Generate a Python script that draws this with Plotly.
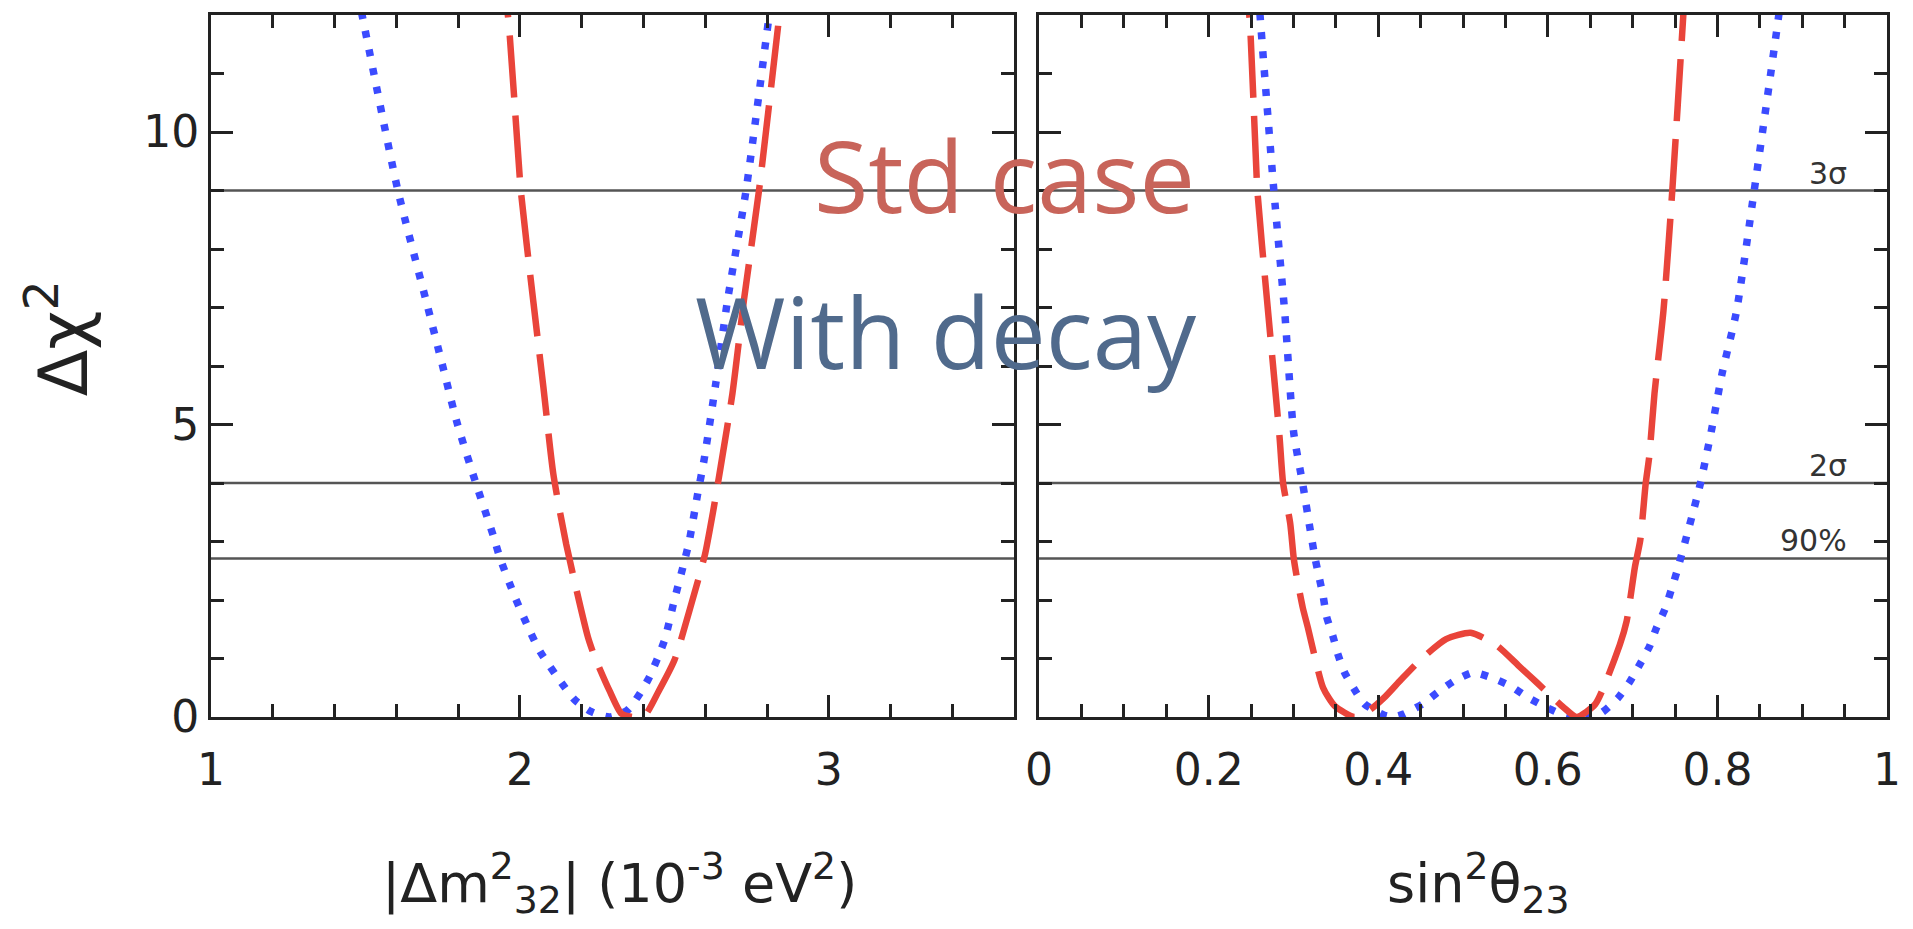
import plotly.graph_objects as go

# ---------------- data ----------------
# left panel: |dm^2_32| (1e-3 eV^2)
dm_decay_x = [1.45, 1.489, 1.605, 1.700, 1.748, 1.797, 1.856, 1.915, 1.936, 1.984, 2.033, 2.065,
              2.135, 2.178, 2.231, 2.290, 2.349, 2.414, 2.468, 2.500, 2.532, 2.548, 2.575,
              2.596, 2.634, 2.672, 2.732, 2.807, 2.832]
dm_decay_y = [13.0, 12.0, 9.0, 7.04, 6.04, 5.02, 4.02, 3.08, 2.71, 2.05, 1.46, 1.12,
              0.58, 0.29, 0.09, 0.0, 0.12, 0.63, 1.31, 2.0, 2.65, 3.0, 3.8,
              4.39, 5.7, 7.12, 9.0, 12.0, 13.0]

dm_std_x = [1.930, 1.961, 2.003, 2.043, 2.076, 2.108, 2.150, 2.220, 2.242, 2.290, 2.328, 2.365,
            2.403, 2.450, 2.500, 2.521, 2.580, 2.600, 2.625, 2.650, 2.688, 2.725, 2.774, 2.840, 2.862]
dm_std_y = [13.0, 12.0, 9.0, 7.12, 5.64, 4.16, 2.95, 1.37, 1.03, 0.45, 0.06, 0.0,
            0.02, 0.45, 0.97, 1.31, 2.4, 2.8, 3.5, 4.28, 5.53, 7.12, 9.0, 12.0, 13.0]

# right panel: sin^2 theta_23
th_decay_x = [0.256, 0.2606, 0.2769, 0.2899, 0.3004, 0.3109, 0.3192, 0.3256, 0.3297, 0.335, 0.339,
              0.3466, 0.3525, 0.3603, 0.372, 0.384, 0.407, 0.418, 0.430, 0.452, 0.470, 0.489,
              0.512, 0.534, 0.556, 0.577, 0.599, 0.622, 0.645, 0.663, 0.683, 0.697, 0.7085,
              0.720, 0.728, 0.738, 0.7457, 0.7525, 0.772, 0.7804, 0.793, 0.8055, 0.8223,
              0.8434, 0.8724, 0.881]
th_decay_y = [13.0, 12.0, 9.0, 6.89, 4.85, 3.99, 3.25, 2.71, 2.43, 2.07, 1.72,
              1.38, 1.07, 0.76, 0.47, 0.22, 0.03, 0.0, 0.05, 0.22, 0.42, 0.61,
              0.76, 0.67, 0.53, 0.33, 0.16, 0.02, 0.0, 0.07, 0.33, 0.61, 0.9,
              1.21, 1.52, 1.84, 2.18, 2.5, 3.54, 4.02, 4.9, 5.87, 6.92,
              9.0, 12.0, 13.0]

th_std_x = [0.238, 0.2479, 0.2575, 0.2689, 0.2836, 0.2878, 0.2962, 0.3004, 0.3046, 0.311, 0.317,
            0.335, 0.3486, 0.372, 0.390, 0.407, 0.427, 0.450, 0.480, 0.509, 0.540, 0.566,
            0.587, 0.619, 0.634, 0.656, 0.685, 0.693, 0.7028, 0.709, 0.7154, 0.7196,
            0.7258, 0.7364, 0.7468, 0.7598, 0.764]
th_std_y = [13.0, 12.0, 9.0, 7.12, 4.79, 4.0, 3.31, 2.71, 2.34, 1.87, 1.53,
            0.5, 0.19, 0.0, 0.12, 0.33, 0.64, 0.98, 1.33, 1.44, 1.22, 0.87,
            0.59, 0.16, 0.0, 0.22, 1.24, 1.64, 2.57, 3.02, 3.99, 4.45,
            5.53, 6.95, 9.0, 12.0, 13.0]

cl_levels = [9.0, 4.0, 2.71]
cl_labels = ["3σ", "2σ", "90%"]

dm_ticks = [1, 2, 3]
th_ticks = [0, 0.2, 0.4, 0.6, 0.8, 1]
th_ticktext = ["0", "0.2", "0.4", "0.6", "0.8", "1"]
y_ticks = [0, 5, 10]

# ---------------- styling ----------------
W, H = 1913, 929
ML, MR, MT, MB = 211, 18, 14, 212
PW, PH = W - ML - MR, H - MT - MB
FONT = "DejaVu Sans"
RED = "#E9443A"
BLUE = "#3B4BFF"
FRAME = "#222222"


def px_x(p):
    return (p - ML) / PW


def px_y(p):
    return (H - MB - p) / PH


fig = go.Figure()

for xs, ys, ax, ay in [(dm_decay_x, dm_decay_y, "x", "y"), (th_decay_x, th_decay_y, "x2", "y2")]:
    fig.add_trace(go.Scatter(x=xs, y=ys, mode="lines", xaxis=ax, yaxis=ay,
                             line=dict(color=BLUE, width=7.5, dash="7px,12px", shape="spline", smoothing=0.6),
                             hoverinfo="skip", showlegend=False))
for xs, ys, ax, ay in [(dm_std_x, dm_std_y, "x", "y"), (th_std_x, th_std_y, "x2", "y2")]:
    fig.add_trace(go.Scatter(x=xs, y=ys, mode="lines", xaxis=ax, yaxis=ay,
                             line=dict(color=RED, width=6.5, dash="62px,18px", shape="spline", smoothing=0.6),
                             hoverinfo="skip", showlegend=False))

shapes = []
for lv in cl_levels:
    for xr, yr in [("x domain", "y"), ("x2 domain", "y2")]:
        shapes.append(dict(type="line", xref=xr, yref=yr, x0=0, x1=1, y0=lv, y1=lv,
                           line=dict(color="#555555", width=2.5), layer="below"))

axis_common = dict(showline=True, linecolor=FRAME, linewidth=3, mirror="allticks",
                   ticks="inside", tickcolor=FRAME, tickwidth=2.5, showgrid=False, zeroline=False,
                   tickfont=dict(family=FONT, size=44, color="#222222"))


def minor(d):
    return dict(dtick=d, ticks="inside", ticklen=13, tickwidth=2.5, tickcolor=FRAME, showgrid=False)


fig.update_layout(
    width=W, height=H, margin=dict(l=ML, r=MR, t=MT, b=MB),
    paper_bgcolor="white", plot_bgcolor="white", showlegend=False,
    font=dict(family=FONT),
    xaxis=dict(domain=[0, px_x(1018)], range=[1, 3.6], tickvals=dm_ticks,
               ticktext=[str(t) for t in dm_ticks], ticklen=22, ticklabelstandoff=12,
               minor=dict(tick0=1, **minor(0.2)), anchor="y", **axis_common),
    yaxis=dict(domain=[0, 1], range=[0, 12], tickvals=y_ticks, ticklen=22,
               minor=dict(tick0=0, **minor(1)), anchor="x", **axis_common),
    xaxis2=dict(domain=[px_x(1043), 1], range=[0, 1], tickvals=th_ticks,
                ticktext=th_ticktext, ticklen=22, ticklabelstandoff=12,
                minor=dict(tick0=0, **minor(0.05)), anchor="y2", **axis_common),
    yaxis2=dict(domain=[0, 1], range=[0, 12], tickvals=y_ticks, ticklen=22, showticklabels=False,
                minor=dict(tick0=0, **minor(1)), anchor="x2", **axis_common),
    shapes=shapes,
)

ann = []
for lv, lab in zip(cl_levels, cl_labels):
    ann.append(dict(xref="x2", yref="y2", x=0.955, y=lv, text=lab, showarrow=False,
                    xanchor="right", yanchor="bottom", yshift=-2,
                    font=dict(family=FONT, size=30, color="#333333")))

ann.append(dict(xref="paper", yref="paper", x=px_x(621), y=px_y(883),
                text="|Δm<sup>2</sup><sub>32</sub>| (10<sup>-3</sup> eV<sup>2</sup>)",
                showarrow=False, xanchor="center", yanchor="middle",
                font=dict(family=FONT, size=54, color="#222222")))
ann.append(dict(xref="paper", yref="paper", x=px_x(1485), y=px_y(883),
                text="sin<sup>2</sup>θ<sub>23</sub>",
                showarrow=False, xanchor="center", yanchor="middle",
                font=dict(family=FONT, size=54, color="#222222")))
ann.append(dict(xref="paper", yref="paper", x=px_x(58), y=px_y(338),
                text="Δχ<sup>2</sup>", textangle=-90,
                showarrow=False, xanchor="center", yanchor="middle",
                font=dict(family=FONT, size=68, color="#222222")))

ann.append(dict(xref="paper", yref="paper", x=px_x(1008), y=px_y(174),
                text="Std case", showarrow=False, xanchor="center", yanchor="middle",
                font=dict(family="Open Sans", size=99, color="#C8645A")))
ann.append(dict(xref="paper", yref="paper", x=px_x(950), y=px_y(330),
                text="With decay", showarrow=False, xanchor="center", yanchor="middle",
                font=dict(family="Open Sans", size=98, color="#506A8C")))

fig.update_layout(annotations=ann)
fig.write_html("out.html")
